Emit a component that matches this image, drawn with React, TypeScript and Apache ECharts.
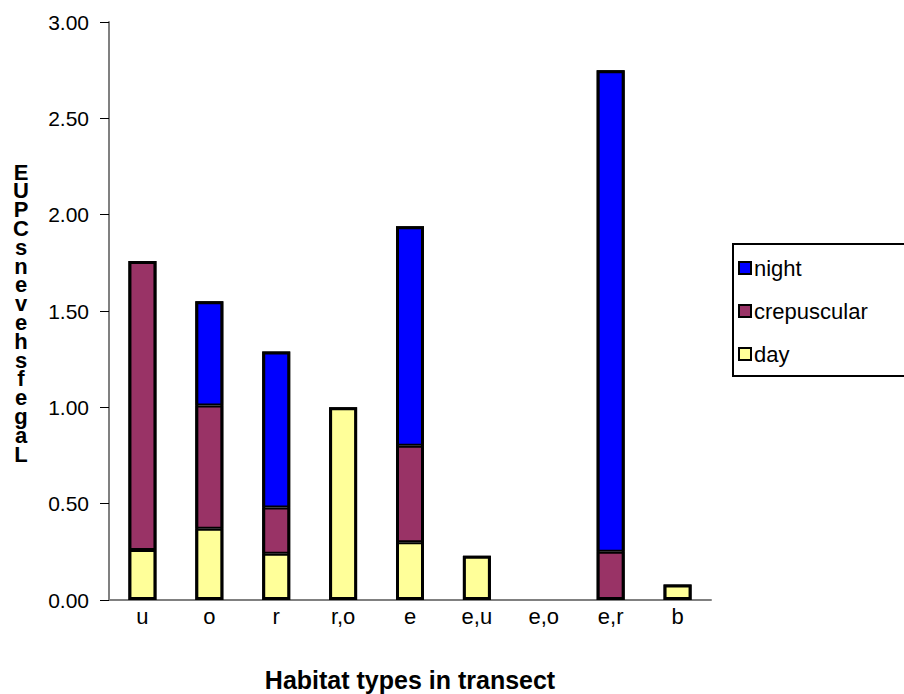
import React, { useEffect, useRef } from "react";
import * as echarts from "echarts";

const categories = ["u", "o", "r", "r,o", "e", "e,u", "e,o", "e,r", "b"];
const dayValues = [0.26, 0.37, 0.24, 1.0, 0.3, 0.23, null, null, 0.08];
const crepuscularValues = [1.5, 0.64, 0.24, null, 0.5, null, null, 0.25, null];
const nightValues = [null, 0.54, 0.81, null, 1.14, null, null, 2.5, null];
const yTitleChars = ["E", "U", "P", "C", "s", "n", "e", "v", "e", "h", "s", "f", "e", "g", "a", "L"];

export default function App() {
  const ref = useRef<HTMLDivElement>(null);
  useEffect(() => {
    if (!ref.current) return;
    const chart = echarts.init(ref.current, null, { renderer: "svg" });
    const font = "Arial, 'Liberation Sans', sans-serif";
    const barW = 28;
    const totals = categories.map((_, i) => {
      const s = (dayValues[i] || 0) + (crepuscularValues[i] || 0) + (nightValues[i] || 0);
      return s > 0 ? s : null;
    });
    const seg = (name: string, data: (number | null)[], color: string) => ({
      type: "bar",
      stack: "total",
      name,
      data,
      barWidth: barW,
      barGap: "-100%",
      itemStyle: { color, borderColor: "#000", borderWidth: 2 },
    });
    chart.setOption({
      animation: false,
      backgroundColor: "#ffffff",
      textStyle: { fontFamily: font },
      grid: { left: 109, right: 193, top: 22, bottom: 94, containLabel: false, outerBoundsMode: "none" },
      legend: {
        orient: "vertical",
        left: 733,
        top: 244,
        data: ["night", "crepuscular", "day"],
        itemWidth: 12,
        itemHeight: 12,
        itemGap: 21,
        padding: [13, 60, 11, 5],
        borderColor: "#000",
        borderWidth: 2,
        icon: "rect",
        itemStyle: { borderColor: "#000", borderWidth: 2 },
        textStyle: { fontSize: 22, color: "#000", fontFamily: font, padding: [0, 0, 0, -2] },
      },
      xAxis: {
        type: "category",
        data: categories,
        axisLine: { lineStyle: { color: "#808080", width: 2 } },
        axisTick: { length: 8, lineStyle: { color: "#000", width: 1 } },
        axisLabel: { fontSize: 22, color: "#000", margin: 5, fontFamily: font },
        name: "Habitat types in transect",
        nameLocation: "middle",
        nameGap: 67,
        nameTextStyle: { fontSize: 25, fontWeight: "bold", color: "#000", fontFamily: font },
      },
      yAxis: {
        type: "value",
        min: 0,
        max: 3,
        interval: 0.5,
        axisLine: { show: true, lineStyle: { color: "#808080", width: 2 } },
        axisTick: { show: true, length: 9, lineStyle: { color: "#000", width: 1 } },
        splitLine: { show: false },
        axisLabel: {
          fontSize: 21,
          color: "#000",
          margin: 20,
          fontFamily: font,
          formatter: (v: number) => v.toFixed(2),
        },
      },
      graphic: yTitleChars.map((c, i) => ({
        type: "text",
        x: 21,
        y: 172 + i * 18.8,
        style: {
          text: c,
          fontSize: 22,
          fontWeight: "bold",
          fontFamily: font,
          fill: "#000",
          align: "center",
          verticalAlign: "middle",
        },
      })),
      series: [
        seg("day", dayValues, "#FFFF99"),
        seg("crepuscular", crepuscularValues, "#993366"),
        seg("night", nightValues, "#0000FF"),
        {
          type: "bar",
          name: "outline",
          data: totals,
          barWidth: barW,
          barGap: "-100%",
          z: 3,
          silent: true,
          itemStyle: { color: "rgba(0,0,0,0)", borderColor: "#000", borderWidth: 3 },
        },
      ],
    });
    return () => chart.dispose();
  }, []);
  return <div ref={ref} style={{ width: 904, height: 694, position: "absolute", left: 0, top: 0 }} />;
}
